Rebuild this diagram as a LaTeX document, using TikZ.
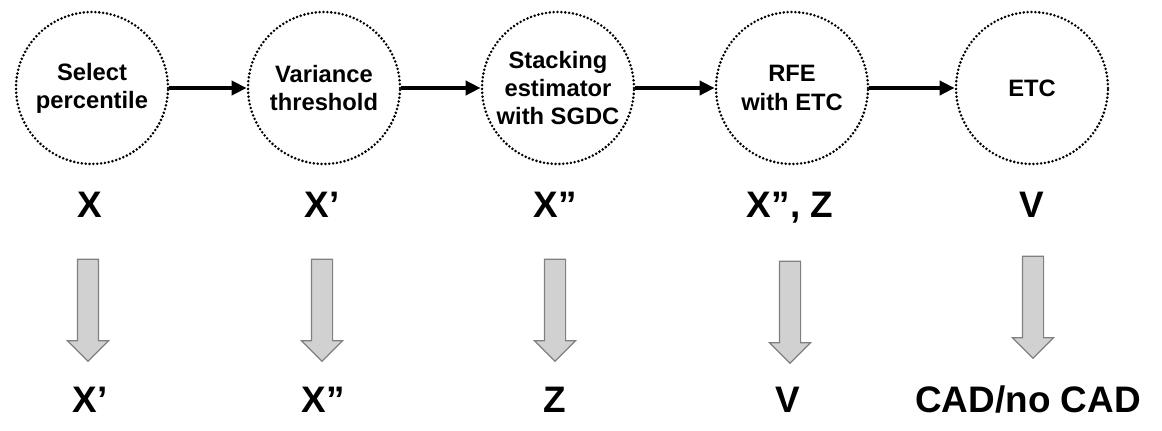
\documentclass[tikz,border=0pt]{standalone}
\usepackage{fontspec}
\setmainfont{Liberation Sans}
\usetikzlibrary{arrows.meta,shapes.arrows,positioning}

\begin{document}
\begin{tikzpicture}[x=0.02cm,y=-0.02cm]
  \tikzset{
  	step circ/.style={circle, draw, line width=1.6pt, dash pattern=on 0pt off 2.2pt, line cap=round,
  	  minimum size=3.04cm, inner sep=0pt, align=center, font=\fontsize{13.5}{16}\selectfont\bfseries},
  	flow/.style={line width=2.2pt, -{Triangle[length=0.3cm,width=0.28cm]}},
  	var/.style={anchor=base, inner sep=0pt, font=\fontsize{21}{24}\selectfont\bfseries},
  	down/.style={single arrow, shape border rotate=270, draw=black!50, fill=black!18, line width=0.7pt,
  	  minimum height=2.04cm, inner sep=0.2cm, single arrow head extend=0.2cm},
  }
  \useasboundingbox (0,0) rectangle (1162,430);

  % The five steps of the pipeline.
  \node[step circ] (sel) at (92,88)   {Select\\percentile};
  \node[step circ] (var) at (324,88)  {Variance\\threshold};
  \node[step circ] (stk) at (558,88)  {Stacking\\estimator\\with SGDC};
  \node[step circ] (rfe) at (792,88)  {RFE\\with ETC};
  \node[step circ] (etc) at (1032,88) {ETC};

  \draw[flow] (sel) -- (var);
  \draw[flow] (var) -- (stk);
  \draw[flow] (stk) -- (rfe);
  \draw[flow] (rfe) -- (etc);

  % What goes in.
  \node[var] (in1) at (90,217)   {X};
  \node[var] (in2) at (322,217)  {X’};
  \node[var] (in3) at (555,217)  {X”};
  \node[var] (in4) at (790,217)  {X”, Z};
  \node[var] (in5) at (1032,217) {V};

  % Grey arrows.
  \node[down] (dn1) at (88,305)   {};
  \node[down] (dn2) at (322,305)  {};
  \node[down] (dn3) at (555,305)  {};
  \node[down] (dn4) at (790,307)  {};
  \node[down] (dn5) at (1033,302) {};

  % What comes out.
  \node[var] (out1) at (90,412)   {X’};
  \node[var] (out2) at (323,412)  {X”};
  \node[var] (out3) at (555,412)  {Z};
  \node[var] (out4) at (788,412)  {V};
  \node[var] (out5) at (1028,412) {CAD/no CAD};
\end{tikzpicture}
\end{document}
